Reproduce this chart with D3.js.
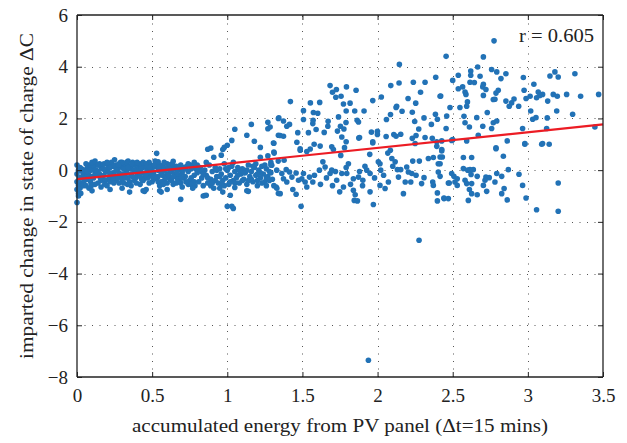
<!doctype html>
<html lang="en">
<head>
  <meta charset="utf-8">
  <style>
    body { margin: 0; background: #fff; }
    text { font-family: "Liberation Serif", "DejaVu Serif", serif; fill: #222; }
  </style>
</head>
<body>
  <script src="https://d3js.org/d3.v7.min.js"></script>
  <div id="chart"></div>
  <script>
    // tick values
    var xTicks = [0, 0.5, 1, 1.5, 2, 2.5, 3, 3.5];
    var yTicks = [-8, -6, -4, -2, 0, 2, 4, 6];

    // fitted line
    var fitX = [0, 3.5];
    var fitY = [-0.35, 1.77];
    var rLabel = "r = 0.605";

    var points = [
      // x ~ 0
      [0,-1.25],[0.01,-0.9],[0,-0.75],[0.01,-0.6],[0,-0.45],[0.02,-0.3],[0,-0.15],[0.01,0],[0.02,0.1],[0,0.2],
      [0.03,-0.5],[0.02,-0.7],[0.04,-0.2],[0.03,0.05],[0.01,-1.0],[0.05,-0.4],[0.04,-0.6],[0.05,0.0],[0.06,-0.1],[0.06,-0.3],
      [0.015,-0.3],[0.025,-0.9],[0.035,-0.05],
      // dense band 0.05 - 0.8
      [0.07,0.1],[0.08,-0.2],[0.09,-0.45],[0.1,0.05],[0.11,-0.3],[0.12,-0.1],[0.13,0.2],[0.14,-0.5],[0.15,-0.15],[0.16,0.1],
      [0.17,-0.35],[0.18,0.25],[0.19,-0.05],[0.2,-0.6],[0.21,0.15],[0.22,-0.25],[0.23,0.3],[0.24,-0.1],[0.25,0.4],[0.26,-0.4],
      [0.27,0.05],[0.28,0.25],[0.29,-0.2],[0.3,0.1],[0.31,-0.5],[0.32,0.2],[0.33,-0.05],[0.34,-0.3],[0.35,0.15],[0.36,-0.15],
      [0.37,0.3],[0.38,-0.4],[0.39,0.0],[0.4,-0.2],[0.41,0.2],[0.42,-0.55],[0.43,-0.1],[0.44,0.1],[0.45,-0.3],[0.46,-0.75],
      [0.47,0.05],[0.48,-0.2],[0.49,0.2],[0.5,-0.45],[0.51,-0.1],[0.52,0.15],[0.53,-0.3],[0.54,0.0],[0.55,-0.6],[0.56,0.1],
      [0.57,-0.2],[0.58,-0.4],[0.59,0.05],[0.6,-0.15],[0.61,0.2],[0.62,-0.35],[0.63,-0.05],[0.64,-0.55],[0.65,0.1],[0.66,-0.25],
      [0.67,0.0],[0.68,-0.45],[0.69,0.2],[0.7,-0.1],[0.71,-0.3],[0.69,-1.13],
      [0.06,-0.6],[0.08,0.2],[0.1,-0.25],[0.12,-0.55],[0.13,-0.2],[0.15,0.25],[0.16,-0.4],[0.18,-0.2],[0.2,0.0],[0.21,-0.35],
      [0.23,-0.15],[0.24,0.15],[0.26,0.2],[0.27,-0.3],[0.29,0.3],[0.3,-0.35],[0.32,-0.15],[0.33,0.3],[0.35,-0.45],[0.36,0.05],
      [0.38,0.2],[0.39,-0.3],[0.41,-0.05],[0.42,0.25],[0.44,-0.4],[0.45,0.15],[0.47,-0.3],[0.48,0.3],[0.5,0.05],[0.51,-0.35],
      [0.53,0.2],[0.54,-0.25],[0.56,-0.45],[0.57,0.15],[0.59,-0.3],[0.6,0.25],[0.62,0.0],[0.63,-0.4],[0.65,-0.15],[0.66,0.15],
      [0.68,-0.2],[0.69,-0.5],[0.71,0.1],[0.72,-0.25],[0.74,-0.05],[0.75,-0.4],[0.77,0.15],[0.78,-0.2],
      [0.07,-0.35],[0.09,0.0],[0.11,0.15],[0.14,-0.05],[0.17,0.05],[0.19,-0.4],[0.22,0.1],[0.25,-0.2],[0.28,-0.1],[0.31,0.05],
      [0.34,0.1],[0.37,-0.25],[0.4,0.05],[0.43,-0.35],[0.46,-0.1],[0.49,-0.05],[0.52,-0.25],[0.55,0.2],[0.58,0.0],[0.61,-0.2],
      [0.64,0.05],[0.67,-0.35],[0.7,0.0],[0.73,0.15],[0.76,-0.3],[0.79,0.05],
      [0.06,0.25],[0.08,-0.7],[0.1,0.3],[0.12,0.35],[0.14,0.2],[0.16,-0.65],[0.18,0.05],[0.2,0.3],[0.22,-0.45],[0.24,-0.35],
      [0.26,0.0],[0.28,-0.5],[0.3,0.3],[0.32,-0.3],[0.34,0.35],[0.36,-0.6],[0.38,0.0],[0.4,0.3],[0.42,-0.25],[0.44,0.3],
      [0.46,0.25],[0.48,-0.5],[0.5,-0.25],[0.52,0.35],[0.54,-0.45],[0.56,-0.1],[0.58,0.3],[0.6,-0.5],[0.62,0.2],[0.64,-0.25],
      [0.66,-0.5],[0.68,0.1],[0.7,-0.65],[0.72,0.05],[0.74,-0.55],[0.76,0.05],[0.78,-0.45],
      [0.065,-0.05],[0.095,-0.6],[0.125,0.0],[0.155,-0.3],[0.185,-0.55],[0.215,-0.1],[0.245,-0.5],[0.275,0.2],[0.305,-0.15],[0.335,-0.55],
      [0.365,0.25],[0.395,-0.5],[0.425,0.05],[0.455,-0.2],[0.485,0.1],[0.515,0.2],[0.545,0.1],[0.575,-0.55],[0.605,0.05],[0.635,0.25],
      [0.665,-0.1],[0.695,-0.3],[0.725,-0.45],[0.755,0.2],[0.785,-0.6],
      [0.1,-0.8],[0.22,-0.75],[0.3,-0.7],[0.35,-0.85],[0.6,-0.75],
      [0.53,0.65],[0.54,0.32],[0.45,-0.82],[0.44,-0.8],[0.55,-0.8],[0.56,-0.85],[0.64,0.34],
      // band 0.75 - 1.35
      [0.8,-0.1],[0.81,-0.45],[0.82,0.1],[0.83,-0.3],[0.84,-0.6],[0.85,0.0],[0.86,-0.2],[0.87,-0.5],[0.88,0.2],[0.89,-0.35],
      [0.9,-0.05],[0.91,-0.7],[0.92,0.1],[0.93,-0.25],[0.94,-0.5],[0.95,0.05],[0.96,-0.15],[0.97,-0.4],[0.98,0.25],[0.99,-0.3],
      [1.0,0.0],[1.01,-0.55],[1.02,-0.2],[1.03,0.15],[1.04,-0.4],[1.05,-0.05],[1.06,-0.3],[1.07,0.1],[1.08,-0.5],[1.09,-0.15],
      [1.1,0.05],[1.11,-0.35],[1.12,-0.1],[1.13,-0.55],[1.14,0.2],[1.15,-0.25],[1.16,-0.05],[1.17,-0.45],[1.18,0.1],[1.19,-0.2],
      [1.2,-0.6],[1.21,0.0],[1.22,-0.3],[1.23,0.15],[1.24,-0.15],[1.25,-0.45],[1.26,0.05],[1.27,-0.25],[1.28,-0.05],[1.29,0.3],
      [1.3,-0.35],[0.8,0.2],[0.83,-0.05],[0.86,0.3],[0.89,-0.6],[0.92,-0.4],[0.95,-0.25],[0.98,-0.6],[1.01,0.1],[1.04,0.3],
      [1.07,-0.2],[1.1,-0.4],[1.13,0.0],[1.16,-0.35],[1.19,0.25],[1.22,-0.1],[1.25,0.2],[1.28,-0.4],[0.76,-0.55],[0.78,0.3],
      [0.74,0.25],[0.77,-0.7],
      [0.81,0.0],[0.84,-0.15],[0.87,-0.3],[0.9,-0.5],[0.93,0.0],[0.96,-0.55],[0.99,0.05],[1.02,-0.45],[1.05,-0.5],[1.08,0.0],
      [1.11,-0.1],[1.14,-0.4],[1.17,0.15],[1.2,-0.15],[1.23,-0.5],[1.26,-0.3],[1.29,-0.1],
      [0.89,0.85],[0.97,0.8],[0.87,0.81],[0.91,0.5],[0.98,0.88],[1.0,0.96],[1.03,1.15],[1.05,1.58],[1.13,1.35],[1.16,1.77],
      [1.18,1.12],[1.22,0.88],[1.27,1.6],[1.27,1.85],[1.31,1.04],[1.34,1.35],[1.27,0.55],[1.34,2.0],[1.31,0.7],[0.96,0.58],
      [1.22,0.5],[1.29,0.2],[0.85,-0.98],[0.97,-0.85],[0.84,-1.0],[0.86,-0.97],[1.02,-0.97],[1.03,-1.4],[1.04,-1.48],[1.0,-1.4],
      [1.13,-0.8],[1.05,-0.67],[1.31,-0.6],[1.2,-0.4],[0.95,-0.7],[1.14,-0.82],[1.26,-0.6],[1.33,-0.7],[1.34,-0.9],
      // x 1.3 - 2.45, upper cloud
      [2.145,4.09],[2.143,3.37],[2.088,3.27],[2.238,3.4],[2.316,3.4],[2.387,3.59],[2.286,3.01],[2.42,2.87],[2.203,2.77],[2.254,2.59],
      [1.684,3.27],[1.7,3.01],[1.726,3.12],[1.793,3.22],[1.857,3.09],[1.757,2.86],[1.722,2.82],[1.773,2.56],[1.817,2.59],[1.968,2.69],
      [2.025,2.83],[2.123,2.42],[2.127,2.47],[1.615,2.62],[1.553,2.6],[1.42,2.65],[1.507,2.3],[1.573,2.23],[1.602,2.2],[1.791,2.29],
      [1.848,2.29],[1.91,2.29],[1.74,2.06],[1.864,1.93],[1.873,1.86],[1.79,1.84],[1.753,1.7],[1.671,1.89],[1.669,1.7],[1.571,1.93],
      [1.569,1.8],[1.507,1.96],[1.343,2.02],[1.374,1.9],[1.396,1.7],[1.414,1.77],[1.285,1.67],[1.469,1.45],[1.352,1.34],[1.374,1.31],
      [1.591,1.57],[1.54,1.45],[1.645,1.46],[1.733,1.51],[1.776,1.59],[1.762,1.28],[1.307,1.05],[1.463,1.08],[1.618,0.93],[1.578,1.0],
      [1.695,0.9],[1.791,1.1],[1.875,1.24],[1.959,1.47],[1.999,1.5],[1.999,1.38],[2.057,1.3],[2.108,1.38],[2.123,1.31],[2.154,1.39],
      [2.231,1.23],[2.256,1.34],[2.316,1.26],[2.364,1.23],[2.394,1.1],[1.968,1.1],[2.059,1.96],[2.086,2.15],[2.163,2.28],[2.231,2.24],
      [2.247,1.88],[2.274,1.59],[2.309,2.02],[2.358,1.77],[2.385,2.16],[2.398,1.97],[2.427,0.8],[1.485,0.83],[1.552,0.82],
      [1.312,0.66],[1.485,0.77],[1.529,0.72],[1.706,0.8],[1.755,0.57],[1.78,0.87],[1.88,1.26],[1.948,0.61],[1.968,1.05],[2.068,0.66],
      [2.085,0.77],[2.25,1.03],[2.427,1.13],[2.394,0.92],[2.371,0.49],[2.338,0.45],[2.404,0.25],[2.431,0.51],
      // x 1.3 - 2.45, lower band
      [1.296,0.19],[1.339,0.35],[1.378,0.38],[1.329,0.0],[1.363,-0.13],[1.392,0.02],[1.414,-0.07],[1.374,-0.33],[1.396,-0.46],[1.43,-0.27],
      [1.458,-0.11],[1.474,-0.39],[1.496,-0.33],[1.507,-0.13],[1.518,-0.46],[1.547,-0.27],[1.569,-0.46],[1.325,-0.65],[1.352,-0.91],[1.436,-0.75],
      [1.458,-0.93],[1.529,-0.65],[1.491,-1.4],[1.613,0.0],[1.636,0.32],[1.651,0.12],[1.684,-0.13],[1.695,0.0],[1.728,-0.39],[1.762,-0.13],
      [1.791,0.1],[1.806,0.25],[1.795,-0.13],[1.839,-0.33],[1.873,-0.27],[1.902,-0.39],[1.916,0.15],[1.928,0.0],[1.95,-0.13],[1.748,-0.84],
      [1.773,-0.65],[1.839,-0.78],[1.851,-0.95],[1.845,-1.17],[1.866,-1.19],[1.95,-0.84],[1.972,-1.33],[2.005,0.32],[2.021,0.0],[2.016,0.25],
      [2.016,-0.59],[2.05,-0.71],[2.072,-0.46],[2.095,0.45],[2.101,0.15],[2.117,0.32],[2.132,0.02],[2.154,0.02],[2.139,-0.27],[2.184,-0.46],
      [2.205,-0.07],[2.228,-0.13],[2.194,0.12],[2.234,0.35],[2.256,-0.2],[2.278,0.35],[2.221,-0.46],[2.293,-0.52],[2.309,-0.29],[2.367,-0.46],
      [2.371,-0.59],[2.172,-0.91],[2.398,-0.88],[2.398,-1.19],[2.442,-1.1],[2.471,-1.1],[2.471,-0.5],[2.404,-0.07],[2.276,-2.71],
      [1.58,-0.2],[1.62,-0.55],[1.66,-0.3],[1.7,-0.6],[1.72,-0.05],[1.82,-0.55],[1.88,-0.05],[1.9,-0.6],[1.98,-0.3],[2.04,-0.2],
      // x 2.4 - 3.5
      [2.775,5.0],[2.456,4.4],[2.704,4.38],[2.62,3.83],[2.666,3.99],[2.759,3.89],[2.793,3.8],[2.854,3.73],[2.537,3.67],[2.5,3.47],
      [2.62,3.67],[2.682,3.63],[2.821,3.54],[2.615,3.4],[2.644,3.39],[2.704,3.32],[2.97,3.58],[3.18,3.8],[3.202,3.6],[3.147,3.64],
      [3.313,3.73],[3.04,3.32],[2.537,3.15],[2.566,3.22],[2.582,3.02],[2.588,2.93],[2.7,3.22],[2.721,3.12],[2.803,3.09],[2.788,2.98],
      [2.704,2.89],[2.77,2.73],[2.781,2.74],[2.416,2.86],[2.598,2.64],[2.593,2.47],[2.548,2.42],[2.482,2.42],[2.975,3.09],[2.988,2.77],
      [3.015,2.86],[3.069,3.02],[3.08,2.89],[3.058,2.8],[3.098,2.93],[3.132,2.67],[3.169,2.93],[3.196,2.86],[3.258,2.93],[3.351,2.86],
      [3.471,2.93],[2.854,2.67],[2.876,2.47],[2.908,2.75],[2.939,2.47],[2.892,2.6],[3.019,2.29],[3.192,2.29],[3.298,2.16],[2.46,2.09],
      [2.575,2.08],[2.66,2.03],[2.73,2.23],[3.032,1.97],[3.054,2.03],[3.129,2.02],[2.456,1.61],[2.582,1.83],[2.611,1.67],[2.7,1.7],
      [2.759,1.61],[2.77,1.83],[2.793,1.9],[2.965,1.61],[3.125,1.61],[3.446,1.67],[2.5,1.18],[2.67,1.35],[2.788,0.86],[2.863,1.13],
      [2.98,1.0],[3.092,1.0],[3.142,1.0],[2.493,1.15],[2.593,1.13],[2.98,1.03],[3.098,1.03],[2.427,0.74],[2.788,0.83],[2.416,0.51],
      [2.571,0.49],[2.626,0.49],[2.837,0.54],[2.416,0.25],[2.571,0.06],[2.6,0.0],[2.615,0.02],[2.637,0.02],[2.622,-0.17],[2.87,0.02],
      [2.493,-0.13],[2.508,-0.24],[2.53,-0.33],[2.416,-0.24],[2.663,-0.24],[2.721,-0.27],[2.743,-0.29],[2.793,-0.13],[2.826,-0.24],[2.941,-0.16],
      [2.477,-0.5],[2.515,-0.46],[2.53,-0.59],[2.582,-0.39],[2.593,-0.52],[2.626,-0.52],[2.715,-0.39],[2.704,-0.59],[2.781,-0.46],[2.611,-0.75],
      [2.626,-0.91],[2.726,-0.82],[2.663,-0.95],[2.842,-0.71],[2.826,-0.91],[2.965,-0.59],[3.202,-0.5],[2.442,-1.08],[2.604,-1.17],[2.863,-1.15],
      [2.988,-1.08],[3.058,-1.53],[3.202,-1.59],
      // outlier
      [1.939,-7.35]
    ];

    var width = 627, height = 443;
    var mLeft = 77, mRight = 603, mTop = 15, mBottom = 377;

    var svg = d3.select("#chart").append("svg")
        .attr("width", width)
        .attr("height", height);

    var x = d3.scaleLinear().domain([0, 3.5]).range([mLeft, mRight]);
    var y = d3.scaleLinear().domain([-8, 6]).range([mBottom, mTop]);

    // dotted grid
    var grid = svg.append("g").attr("class", "grid")
        .attr("stroke", "#555").attr("stroke-width", 1).attr("stroke-dasharray", "1 6.5");
    grid.selectAll(".gx").data(xTicks.slice(1, -1)).enter().append("line")
        .attr("x1", d => Math.round(x(d)) + 0.5).attr("x2", d => Math.round(x(d)) + 0.5)
        .attr("y1", mBottom).attr("y2", mTop);
    grid.selectAll(".gy").data(yTicks.slice(1, -1)).enter().append("line")
        .attr("y1", d => Math.round(y(d)) + 0.5).attr("y2", d => Math.round(y(d)) + 0.5)
        .attr("x1", mLeft).attr("x2", mRight);

    // scatter
    svg.append("g").selectAll("circle").data(points).enter().append("circle")
        .attr("cx", d => x(d[0]))
        .attr("cy", d => y(d[1]))
        .attr("r", 2.8)
        .attr("fill", "#2272b6");

    // fit line
    svg.append("line")
        .attr("x1", x(fitX[0])).attr("y1", y(fitY[0]))
        .attr("x2", x(fitX[1])).attr("y2", y(fitY[1]))
        .attr("stroke", "#ec1c24").attr("stroke-width", 2.2);

    // axes with inward ticks, box all round
    var axB = svg.append("g").attr("transform", "translate(0," + mBottom + ")")
        .call(d3.axisBottom(x).tickValues(xTicks).tickSize(-5).tickPadding(12).tickFormat(d => d));
    var axT = svg.append("g").attr("transform", "translate(0," + mTop + ")")
        .call(d3.axisTop(x).tickValues(xTicks).tickSize(-5).tickFormat(""));
    var axL = svg.append("g").attr("transform", "translate(" + mLeft + ",0)")
        .call(d3.axisLeft(y).tickValues(yTicks).tickSize(-5).tickPadding(9)
          .tickFormat(d => d < 0 ? "\u2212" + Math.abs(d) : d));
    var axR = svg.append("g").attr("transform", "translate(" + mRight + ",0)")
        .call(d3.axisRight(y).tickValues(yTicks).tickSize(-5).tickFormat(""));

    [axB, axT, axL, axR].forEach(function(a) {
      a.select(".domain").attr("stroke", "#222").attr("stroke-width", 1.3);
      a.selectAll(".tick line").attr("stroke", "#222").attr("stroke-width", 1);
      a.selectAll("text").style("font-family", "'Liberation Serif', serif")
        .style("font-size", "19px").attr("fill", "#222");
    });
    axB.selectAll(".domain").attr("d", "M" + mLeft + ",0H" + mRight);
    axT.selectAll(".domain").attr("d", "M" + mLeft + ",0H" + mRight);
    axL.selectAll(".domain").attr("d", "M0," + mTop + "V" + mBottom);
    axR.selectAll(".domain").attr("d", "M0," + mTop + "V" + mBottom);

    // labels
    svg.append("text")
        .attr("x", (mLeft + mRight) / 2).attr("y", 432)
        .attr("text-anchor", "middle")
        .attr("textLength", 416).attr("lengthAdjust", "spacingAndGlyphs")
        .style("font-size", "19.5px")
        .text("accumulated energy from PV panel (\u0394t=15 mins)");

    svg.append("text")
        .attr("transform", "translate(33," + (mTop + mBottom) / 2 + ") rotate(-90)")
        .attr("text-anchor", "middle")
        .attr("textLength", 326).attr("lengthAdjust", "spacingAndGlyphs")
        .style("font-size", "19.5px")
        .text("imparted change in state of charge \u0394C");

    svg.append("text")
        .attr("x", 594).attr("y", 42)
        .attr("text-anchor", "end")
        .attr("textLength", 75).attr("lengthAdjust", "spacingAndGlyphs")
        .style("font-size", "19.5px")
        .text(rLabel);
  </script>
</body>
</html>
